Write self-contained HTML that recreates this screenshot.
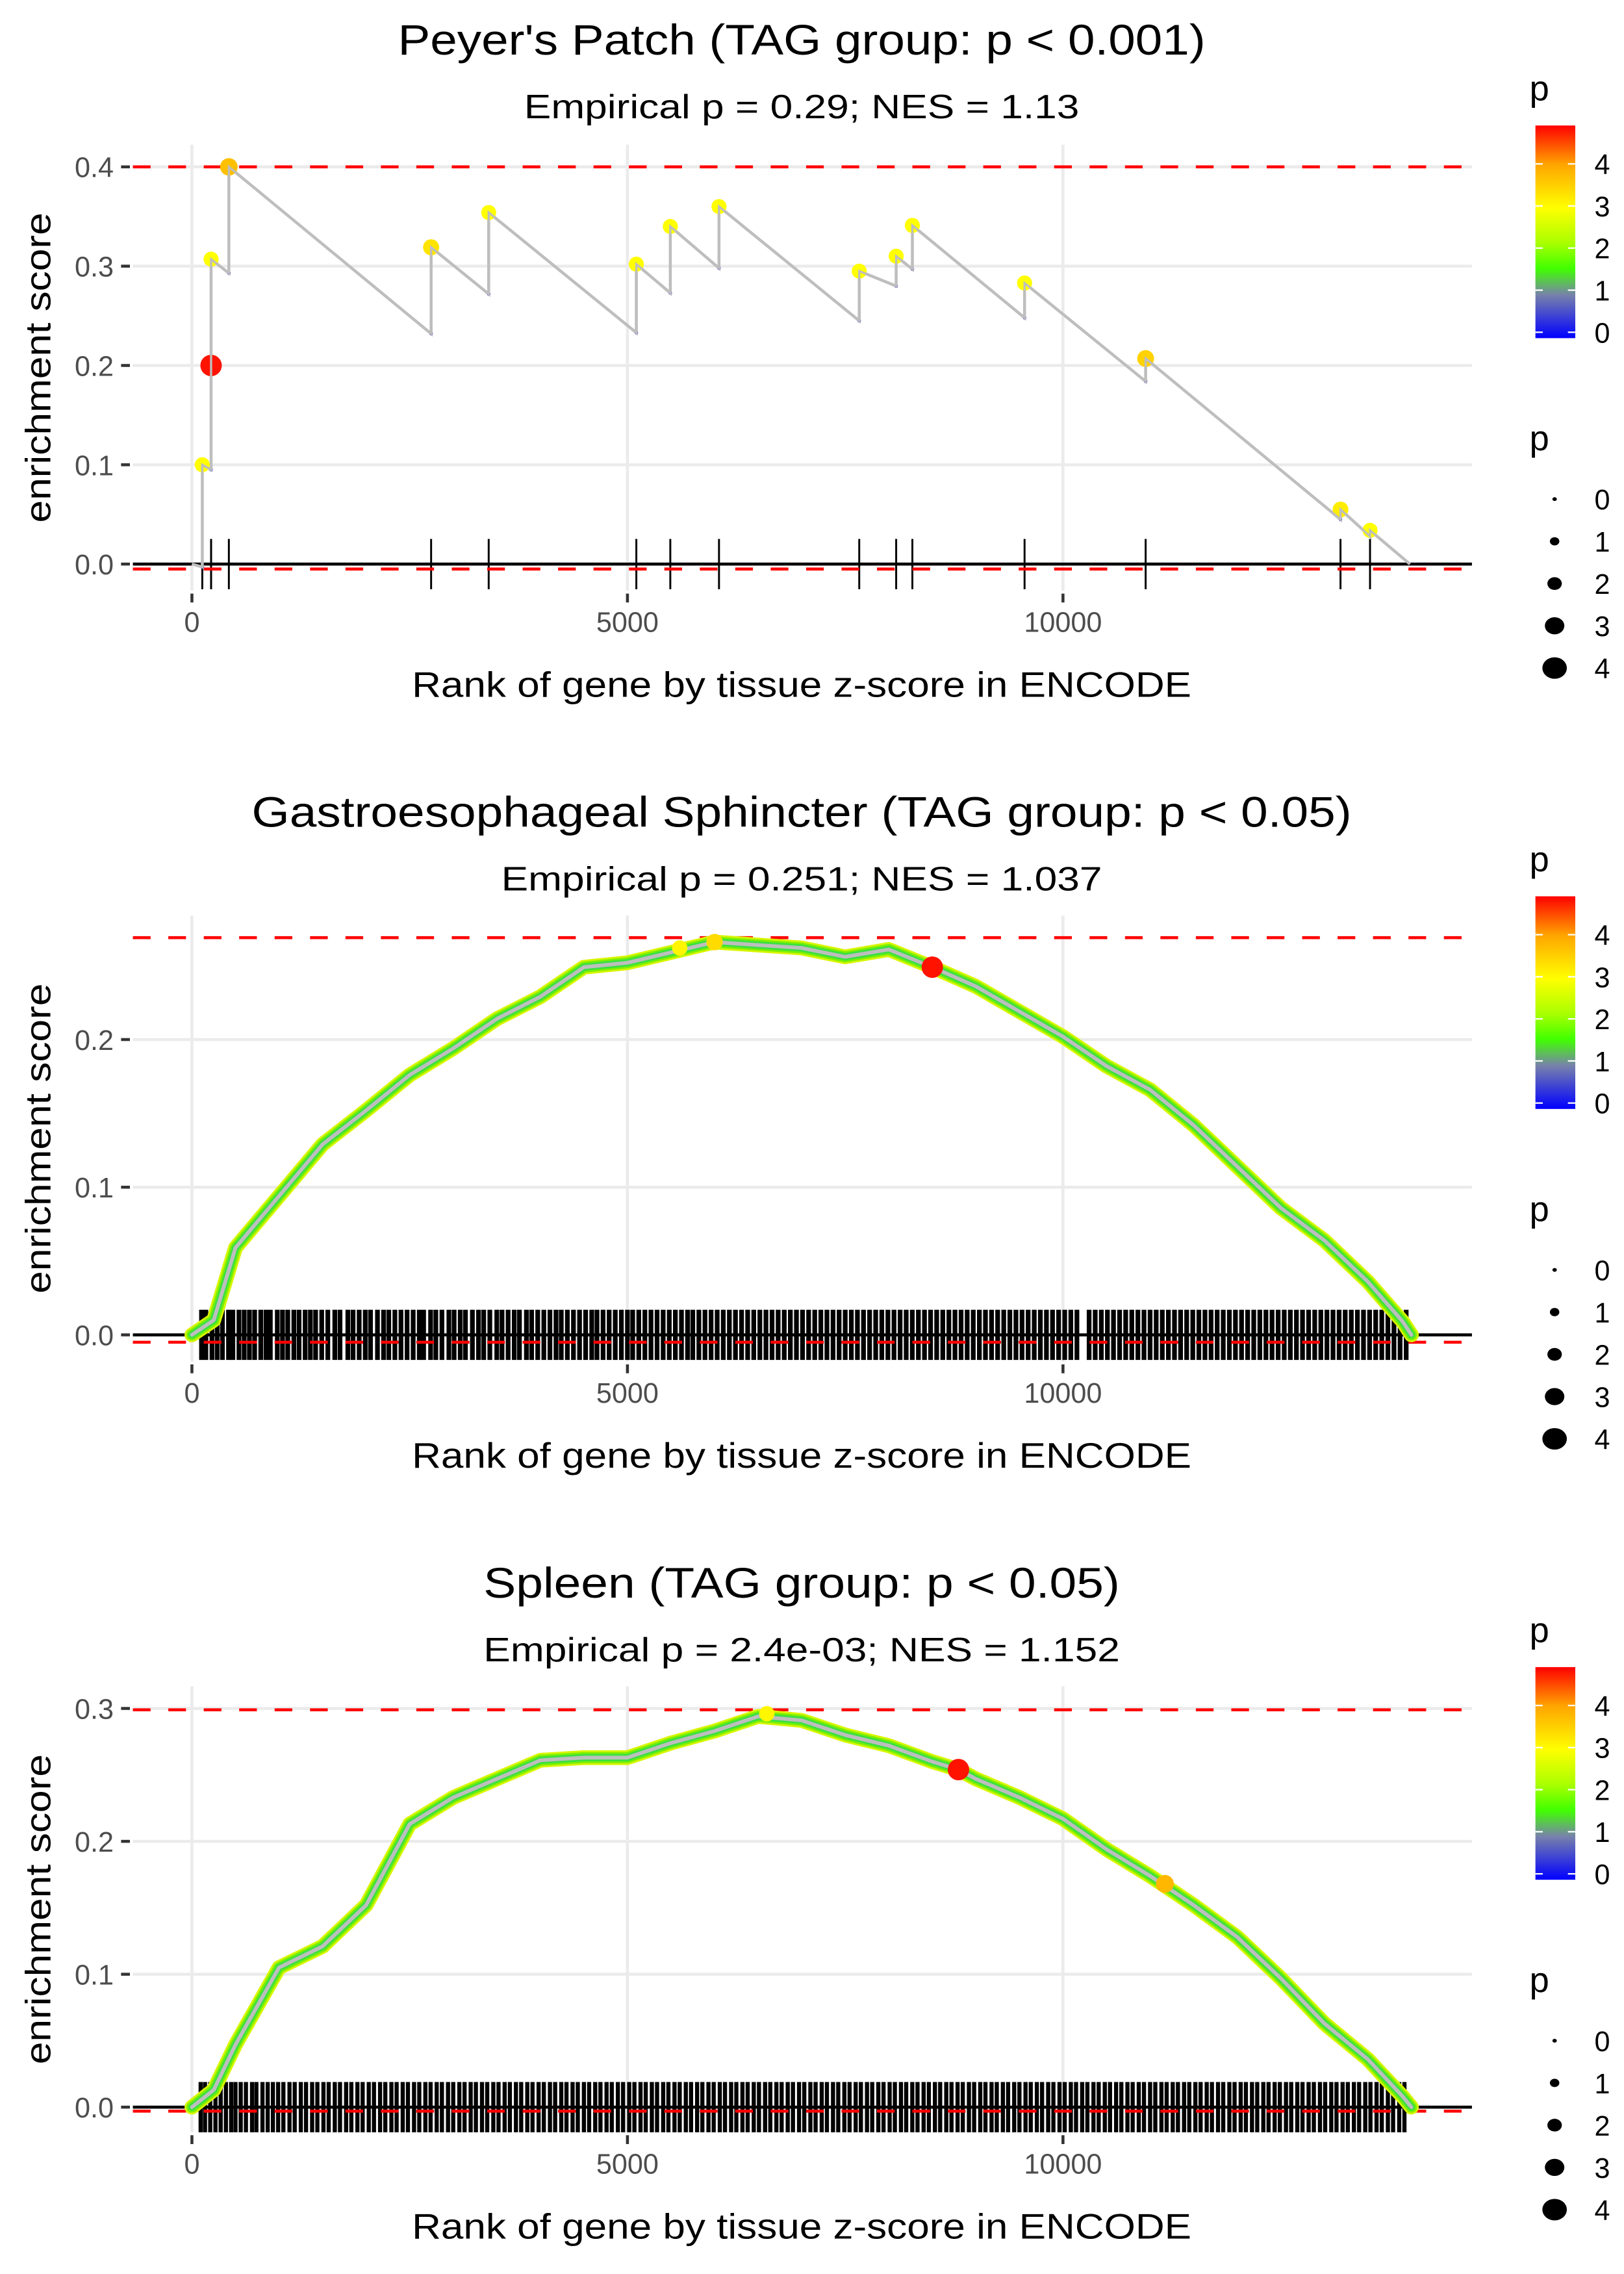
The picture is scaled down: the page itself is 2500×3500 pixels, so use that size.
<!DOCTYPE html>
<html><head><meta charset="utf-8"><title>Enrichment plots</title>
<style>
html,body{margin:0;padding:0;background:#fff;}
svg{display:block;font-family:"Liberation Sans",Arial,sans-serif;}
</style></head>
<body>
<svg id="fig" xmlns="http://www.w3.org/2000/svg" width="2500" height="3500" viewBox="0 0 1100 1540" preserveAspectRatio="none"></svg>
<script>
// ---------- Panel 1 data (Peyer's Patch) ----------
const p1HitRank = [119, 220, 220, 424, 2746, 3407, 5102, 5492, 6051, 7661, 8085, 8271, 9559, 10949, 13186, 13525];
const p1HitES   = [0.100, 0.200, 0.307, 0.400, 0.319, 0.354, 0.302, 0.340, 0.360, 0.295, 0.310, 0.341, 0.283, 0.207, 0.055, 0.034];
const p1PreES   = [-0.003, 0.095, 0.200, 0.293, 0.232, 0.272, 0.233, 0.273, 0.298, 0.245, 0.280, 0.297, 0.248, 0.184, 0.045, 0.028];
const p1HitP    = [3.0, 4.8, 3.0, 3.7, 3.3, 3.0, 3.0, 3.0, 3.0, 3.0, 3.0, 3.0, 3.0, 3.5, 3.2, 3.0];
const p1EndRank = 13983;

// ---------- Panel 2 data (Gastroesophageal Sphincter) ----------
const p2Rank = [0,250,500,1000,1500,2000,2500,3000,3500,4000,4500,5000,5500,6000,6500,7000,7500,8000,8500,9000,9500,10000,10500,11000,11500,12000,12500,13000,13500,13900,14000];
const p2ES   = [0,0.010,0.059,0.094,0.129,0.152,0.176,0.194,0.214,0.229,0.249,0.252,0.259,0.266,0.264,0.262,0.256,0.261,0.249,0.236,0.219,0.202,0.182,0.166,0.142,0.114,0.086,0.064,0.036,0.009,0];
const p2HighRank = [8500, 6000, 5600];
const p2HighES   = [0.249, 0.266, 0.262];
const p2HighP    = [4.8, 3.4, 3.1];
const p2Rug = [110,160,230,290,350,420,470,540,600,660,720,790,850,900,980,1040,1100,1170,1230,1300,1360,1420,1490,1560,1640,1700,1790,1850,1920,1990,2050,2130,2200,2260,2330,2400,2470,2540,2610,2660,2740,2800,2870,2950,3010,3080,3140,3220,3290,3350,3420,3500,3560,3630,3700,3760,3840,3900,3970,4040,4110,4180,4240,4310,4380,4450,4520,4590,4650,4720,4790,4860,4930,5000,5060,5130,5200,5270,5340,5410,5480,5550,5620,5690,5750,5820,5890,5960,6030,6100,6170,6240,6310,6380,6450,6520,6590,6660,6730,6800,6870,6940,7010,7080,7150,7220,7290,7360,7430,7500,7570,7640,7710,7780,7850,7920,7990,8060,8130,8200,8270,8340,8410,8480,8550,8620,8690,8760,8830,8900,8970,9040,9110,9180,9250,9320,9390,9460,9530,9600,9670,9740,9810,9880,9950,10020,10090,10160,10300,10370,10440,10510,10580,10650,10720,10790,10860,10930,11000,11070,11140,11210,11280,11350,11420,11490,11560,11630,11700,11770,11840,11910,11980,12050,12120,12190,12260,12330,12400,12470,12540,12610,12680,12750,12820,12890,12960,13030,13100,13170,13240,13310,13380,13450,13520,13590,13660,13730,13800,13870,13940];

// ---------- Panel 3 data (Spleen) ----------
const p3Rank = [0,250,500,1000,1500,2000,2500,3000,3500,4000,4500,5000,5500,6000,6500,7000,7500,8000,8500,8800,9000,9500,10000,10500,11000,11500,12000,12500,13000,13500,13900,14000];
const p3ES   = [0,0.013,0.047,0.105,0.121,0.152,0.213,0.233,0.247,0.261,0.263,0.263,0.274,0.283,0.294,0.291,0.280,0.272,0.260,0.254,0.247,0.233,0.217,0.194,0.174,0.152,0.128,0.097,0.063,0.036,0.008,0];
const p3HighRank = [8800, 11170, 6600];
const p3HighES   = [0.254, 0.168, 0.296];
const p3HighP    = [4.8, 3.8, 3.1];
const p3Rug = [100,150,210,270,330,390,450,500,560,620,690,740,810,870,930,990,1050,1120,1180,1250,1310,1380,1440,1510,1570,1640,1700,1770,1830,1900,1960,2030,2090,2160,2220,2290,2350,2420,2480,2550,2610,2680,2740,2810,2870,2940,3000,3070,3130,3200,3260,3330,3390,3460,3520,3590,3650,3720,3780,3850,3910,3980,4040,4110,4170,4240,4300,4370,4430,4500,4560,4630,4690,4760,4820,4890,4950,5020,5080,5150,5210,5280,5340,5410,5470,5540,5600,5670,5730,5800,5860,5930,5990,6060,6120,6190,6250,6320,6380,6450,6510,6580,6640,6710,6770,6840,6900,6970,7030,7100,7160,7230,7290,7360,7420,7490,7550,7620,7680,7750,7810,7880,7940,8010,8070,8140,8200,8270,8330,8400,8460,8530,8590,8660,8720,8790,8850,8920,8980,9050,9110,9180,9240,9310,9370,9440,9500,9570,9630,9700,9760,9830,9890,9960,10020,10090,10150,10220,10280,10350,10410,10480,10540,10610,10670,10740,10800,10870,10930,11000,11060,11130,11190,11260,11320,11390,11450,11520,11580,11650,11710,11780,11840,11910,11970,12040,12100,12170,12230,12300,12360,12430,12490,12560,12620,12690,12750,12820,12880,12950,13010,13080,13140,13210,13270,13340,13400,13470,13530,13600,13660,13730,13790,13860,13920];

// ---------- shared tick labels ----------
const xTicks = [0, 5000, 10000];
const xTickLabels = ["0", "5000", "10000"];
const cbarTicks = [0, 1, 2, 3, 4];
const sizeLegendValues = [0, 1, 2, 3, 4];

const NS = "http://www.w3.org/2000/svg";
const svg = document.getElementById("fig");
function mk(tag, attrs, parent) {
  const e = document.createElementNS(NS, tag);
  for (const k in attrs) e.setAttribute(k, attrs[k]);
  (parent || svg).appendChild(e);
  return e;
}
function txt(str, attrs, parent) { const t = mk("text", attrs, parent); t.textContent = str; return t; }

const stops = [[0,[0,0,255]],[1,[120,130,170]],[1.6,[64,255,0]],[2.2,[170,255,0]],[3,[255,255,0]],[4,[255,165,0]],[4.9,[255,0,0]]];
function pColor(p) {
  for (let i = 0; i < stops.length - 1; i++) {
    const a = stops[i], b = stops[i+1];
    if (p <= b[0]) {
      const t = Math.max(0, (p - a[0]) / (b[0] - a[0]));
      const c = a[1].map((v, j) => Math.round(v + (b[1][j] - v) * t));
      return "rgb(" + c.join(",") + ")";
    }
  }
  return "rgb(255,0,0)";
}
function pRadius(p) { return 1.5 + 1.2 * p; }

const defs = mk("defs", {});
const grad = mk("linearGradient", {id: "pgrad", x1: "0", y1: "1", x2: "0", y2: "0"}, defs);
stops.forEach(s => { mk("stop", {offset: (s[0] / 4.9), "stop-color": pColor(s[0])}, grad); });

function drawPanel(cfg) {
  const g = mk("g", {});
  
  
  const xs = r => 130 + r * 0.059;
  const ys = v => cfg.y0 - v * cfg.yk;
  const L = 90, R = 997;
  const t = txt(cfg.title, {x: 543, y: cfg.titleY, "text-anchor": "middle", "font-size": 29, fill: "#000", textLength: cfg.titleW, lengthAdjust: "spacingAndGlyphs"}, g);
  
  
  const st = txt(cfg.sub, {x: 543, y: cfg.titleY + 43, "text-anchor": "middle", "font-size": 23, fill: "#000", textLength: cfg.subW, lengthAdjust: "spacingAndGlyphs"}, g);
  
  
  const grid = mk("g", {stroke: "#ebebeb", "stroke-width": 2}, g);
  
  
  cfg.yTicks.forEach(v => { mk("line", {x1: L, x2: R, y1: ys(v), y2: ys(v)}, grid); });
  xTicks.forEach(v => { mk("line", {x1: xs(v), x2: xs(v), y1: cfg.top, y2: cfg.bottom}, grid); });
  cfg.yTicks.forEach((v, i) => {
    mk("line", {x1: 82, x2: 88, y1: ys(v), y2: ys(v), stroke: "#333", "stroke-width": 2}, g);
    const l = txt(cfg.yLabels[i], {x: 77, y: ys(v) + 7, "text-anchor": "end", "font-size": 19, fill: "#4d4d4d"}, g);
    
    
  });
  xTicks.forEach((v, i) => {
    mk("line", {x1: xs(v), x2: xs(v), y1: cfg.bottom + 2, y2: cfg.bottom + 8, stroke: "#333", "stroke-width": 2}, g);
    const l = txt(xTickLabels[i], {x: xs(v), y: cfg.bottom + 28, "text-anchor": "middle", "font-size": 19, fill: "#4d4d4d"}, g);
    
    
  });
  const xt = txt("Rank of gene by tissue z-score in ENCODE", {x: 543, y: cfg.bottom + 72, "text-anchor": "middle", "font-size": 24, fill: "#000", textLength: 528, lengthAdjust: "spacingAndGlyphs"}, g);
  
  
  const cy = (cfg.top + cfg.bottom) / 2;
  const yt = txt("enrichment score", {x: 0, y: 0, "text-anchor": "middle", "font-size": 24, fill: "#000", textLength: 210, lengthAdjust: "spacingAndGlyphs", transform: "translate(34," + cy + ") rotate(-90)"}, g);
  
  
  const rug = mk("g", {stroke: "#000", "stroke-width": cfg.rugW}, g);
  
  
  cfg.rug.forEach(r => { mk("line", {x1: xs(r), x2: xs(r), y1: cfg.rugTop, y2: cfg.rugBot}, rug); });
  const zl = mk("line", {x1: L, x2: R, y1: ys(0), y2: ys(0), stroke: "#000", "stroke-width": 2}, g);
  
  
  [cfg.maxES, cfg.minES].forEach((v, i) => {
    const d = mk("line", {x1: L, x2: R, y1: ys(v), y2: ys(v), stroke: "#ff0000", "stroke-width": 2, "stroke-dasharray": "12,12"}, g);
    
    
  });
  cfg.drawSeries(g, xs, ys);
  drawLegend(g, cfg.legY);
}

function drawLegend(g, y) {
  const lg = mk("g", {}, g);
  
  
  txt("p", {x: 1036, y: y, "font-size": 24, fill: "#000"}, lg);
  const top = y + 17, bot = y + 161, z = y + 157, per = 28.5;
  mk("rect", {x: 1040, y: top, width: 27, height: bot - top, fill: "url(#pgrad)"}, lg);
  cbarTicks.forEach(v => {
    const ty = z - v * per;
    mk("line", {x1: 1040, x2: 1045, y1: ty, y2: ty, stroke: "#fff", "stroke-width": 1}, lg);
    mk("line", {x1: 1062, x2: 1067, y1: ty, y2: ty, stroke: "#fff", "stroke-width": 1}, lg);
    txt(String(v), {x: 1080, y: ty + 7, "font-size": 19, fill: "#000"}, lg);
  });
  const sg = mk("g", {}, g);
  
  
  txt("p", {x: 1036, y: y + 237, "font-size": 24, fill: "#000"}, sg);
  sizeLegendValues.forEach((v, i) => {
    const ey = y + 270 + i * 28.6;
    mk("ellipse", {cx: 1053, cy: ey, rx: 1.5 + v * 1.7, ry: 1.3 + v * 1.5, fill: "#000"}, sg);
    txt(String(v), {x: 1080, y: ey + 7, "font-size": 19, fill: "#000"}, sg);
  });
}

function drawDense(rank, es, hr, he, hp) {
  return function (g, xs, ys) {
    const d = rank.map((r, i) => (i ? "L" : "M") + xs(r).toFixed(1) + "," + ys(es[i]).toFixed(1)).join(" ");
    const sg = mk("g", {fill: "none", "stroke-linejoin": "round", "stroke-linecap": "round"}, g);
    
    
    mk("path", {d: d, stroke: "#d8f500", "stroke-width": 10}, sg);
    mk("path", {d: d, stroke: "#7cf000", "stroke-width": 7.5}, sg);
    mk("path", {d: d, stroke: "#3be040", "stroke-width": 5}, sg);
    mk("path", {d: d, stroke: "#bebebe", "stroke-width": 2.5}, sg);
    hr.forEach((r, i) => {
      const c = mk("circle", {cx: xs(r), cy: ys(he[i]), r: pRadius(hp[i]), fill: pColor(hp[i])}, g);
      
      
    });
  };
}

drawPanel({
  name: "panel-peyers-patch", title: "Peyer's Patch (TAG group: p < 0.001)", titleW: 547,
  sub: "Empirical p = 0.29; NES = 1.13", subW: 376, titleY: 37,
  y0: 382, yk: 672.5, top: 98, bottom: 400,
  yTicks: [0, 0.1, 0.2, 0.3, 0.4], yLabels: ["0.0", "0.1", "0.2", "0.3", "0.4"],
  rug: p1HitRank, rugTop: 365, rugBot: 399, rugW: 1.3,
  maxES: 0.400, minES: -0.005, legY: 68,
  drawSeries: function (g, xs, ys) {
    let d = "M" + xs(0) + "," + ys(0);
    p1HitRank.forEach((r, i) => { d += " L" + xs(r) + "," + ys(p1PreES[i]) + " L" + xs(r) + "," + ys(p1HitES[i]); });
    d += " L" + xs(p1EndRank) + "," + ys(0);
    const ln = mk("path", {d: d, fill: "none", stroke: "#bebebe", "stroke-width": 2}, g);
    
    
    p1HitRank.forEach((r, i) => {
      const s = mk("circle", {cx: xs(r), cy: ys(p1PreES[i]), r: 1.2, fill: "#7070d0"}, g);
      
      
    });
    p1HitRank.forEach((r, i) => {
      const c = mk("circle", {cx: xs(r), cy: ys(p1HitES[i]), r: pRadius(p1HitP[i]), fill: pColor(p1HitP[i])}, g);
      
      
    });
    mk("path", {d: d, fill: "none", stroke: "#bebebe", "stroke-width": 1.5}, g);
  }
});

drawPanel({
  name: "panel-gastroesophageal-sphincter", title: "Gastroesophageal Sphincter (TAG group: p < 0.05)", titleW: 745,
  sub: "Empirical p = 0.251; NES = 1.037", subW: 407, titleY: 560,
  y0: 904, yk: 1000, top: 620, bottom: 922,
  yTicks: [0, 0.1, 0.2], yLabels: ["0.0", "0.1", "0.2"],
  rug: p2Rug, rugTop: 887, rugBot: 921, rugW: 3.2,
  maxES: 0.269, minES: -0.005, legY: 590,
  drawSeries: drawDense(p2Rank, p2ES, p2HighRank, p2HighES, p2HighP)
});

drawPanel({
  name: "panel-spleen", title: "Spleen (TAG group: p < 0.05)", titleW: 431,
  sub: "Empirical p = 2.4e-03; NES = 1.152", subW: 431, titleY: 1082,
  y0: 1427, yk: 900, top: 1142, bottom: 1444,
  yTicks: [0, 0.1, 0.2, 0.3], yLabels: ["0.0", "0.1", "0.2", "0.3"],
  rug: p3Rug, rugTop: 1410, rugBot: 1444, rugW: 2.8,
  maxES: 0.299, minES: -0.003, legY: 1112,
  drawSeries: drawDense(p3Rank, p3ES, p3HighRank, p3HighES, p3HighP)
});
</script>
</body></html>
